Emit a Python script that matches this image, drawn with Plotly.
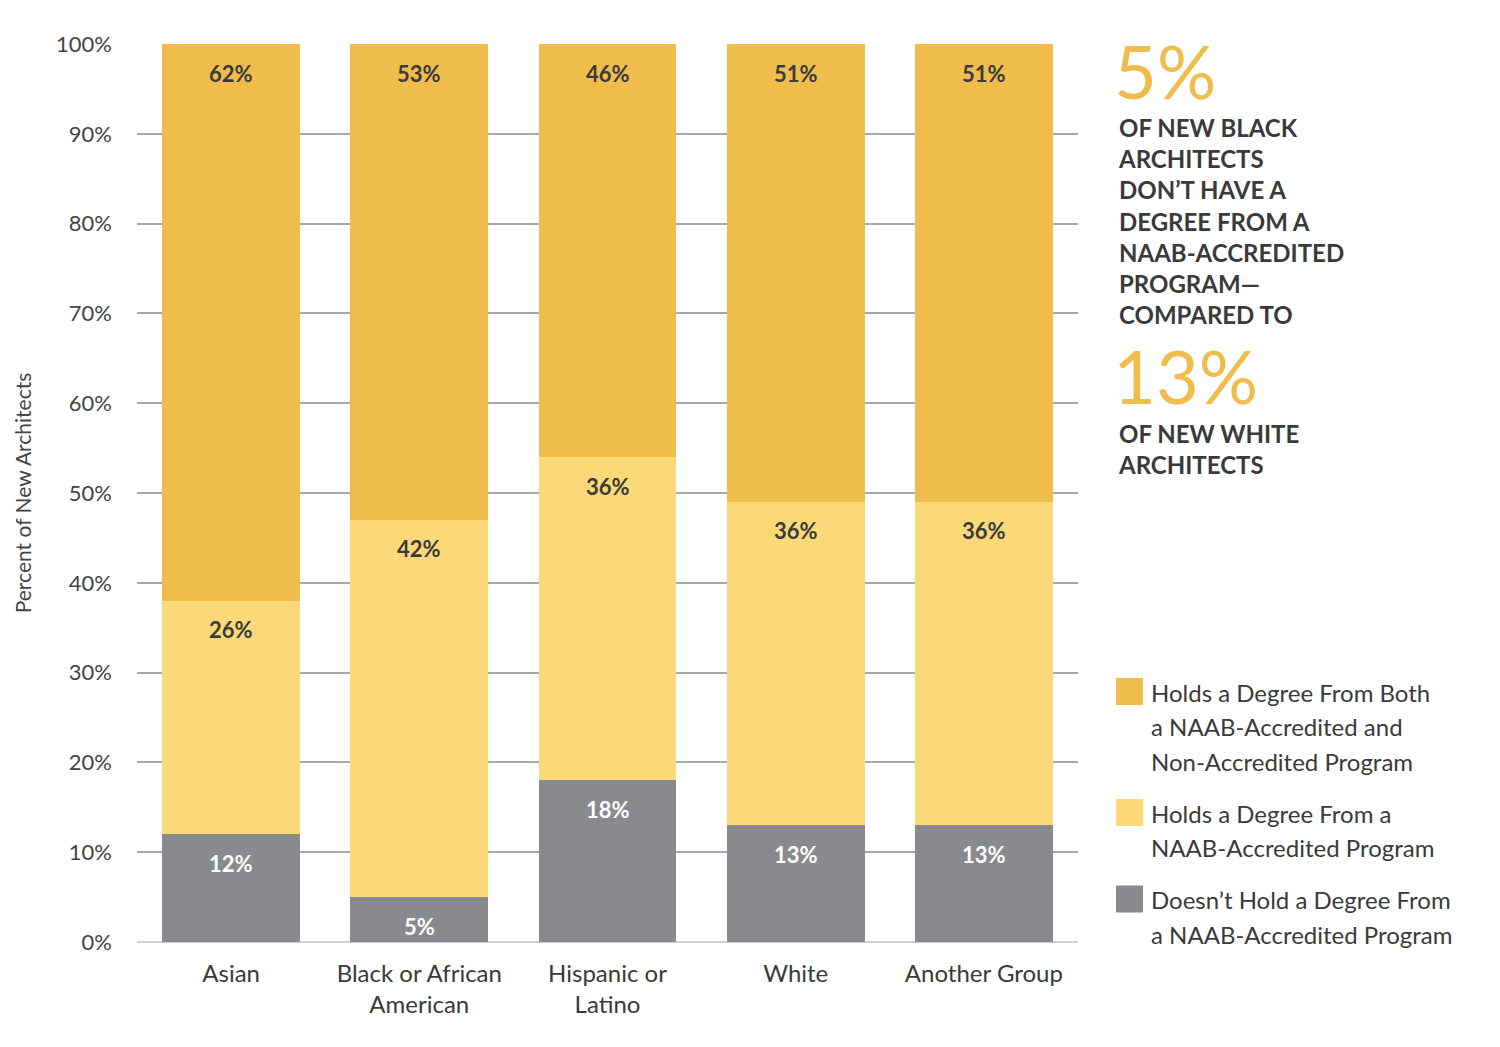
import plotly.graph_objects as go

# ---------------- data ----------------
categories = ["Asian", "Black or African<br>American", "Hispanic or<br>Latino", "White", "Another Group"]
no_naab = [12, 5, 18, 13, 13]          # Doesn't hold a degree from a NAAB-accredited program
naab_only = [26, 42, 36, 36, 36]       # Holds a degree from a NAAB-accredited program
both = [62, 53, 46, 51, 51]            # Holds a degree from both

series_names = [
    "Doesn’t Hold a Degree From a NAAB-Accredited Program",
    "Holds a Degree From a NAAB-Accredited Program",
    "Holds a Degree From Both a NAAB-Accredited and Non-Accredited Program",
]
legend_lines = [
    ["Holds a Degree From Both", "a NAAB-Accredited and", "Non-Accredited Program"],
    ["Holds a Degree From a", "NAAB-Accredited Program"],
    ["Doesn’t Hold a Degree From", "a NAAB-Accredited Program"],
]
y_ticks = [0, 10, 20, 30, 40, 50, 60, 70, 80, 90, 100]
y_tick_labels = [f"{v}%" for v in y_ticks]
y_title = "Percent of New Architects"

callout_big_1 = "5%"
callout_text_1 = ["OF NEW BLACK", "ARCHITECTS", "DON’T HAVE A", "DEGREE FROM A",
                  "NAAB-ACCREDITED", "PROGRAM—", "COMPARED TO"]
callout_big_2 = "13%"
callout_text_2 = ["OF NEW WHITE", "ARCHITECTS"]

# ---------------- style ----------------
C_GRAY = "#898A8D"
C_LIGHT = "#FCD978"
C_GOLD = "#F0BD4C"
C_TEXT = "#3A3A3A"
FONT = "Lato"

W, H = 1500, 1047
L, R, T, B = 137, 422, 44, 105
PW, PH = W - L - R, H - T - B


def px_x(px):
    return (px - L) / PW


def px_y(py):
    return (H - B - py) / PH


fig = go.Figure()
series = [(no_naab, C_GRAY), (naab_only, C_LIGHT), (both, C_GOLD)]
for (vals, col), name in zip(series, series_names):
    fig.add_trace(go.Bar(
        x=categories, y=vals, name=name, marker=dict(color=col, line=dict(width=0)),
        hoverinfo="skip", showlegend=False,
    ))

# value labels near top of each segment
annotations = []
cum = [0] * len(categories)
for (vals, col) in series:
    for i, v in enumerate(vals):
        cum[i] += v
        annotations.append(dict(
            x=categories[i], y=cum[i], xref="x", yref="y", text=f"<b>{v}%</b>",
            showarrow=False, yanchor="middle", yshift=-29,
            font=dict(family=FONT, size=22, color="white" if col == C_GRAY else C_TEXT),
        ))

# right-side callouts
BIG = 74
annotations.append(dict(x=px_x(1112), y=px_y(70), xref="paper", yref="paper", xanchor="left",
                        yanchor="middle", showarrow=False, text=callout_big_1,
                        font=dict(family=FONT, size=BIG, color=C_GOLD)))
annotations.append(dict(x=px_x(1116), y=px_y(221), xref="paper", yref="paper", xanchor="left",
                        yanchor="middle", showarrow=False, align="left",
                        text="<b>" + "<br>".join(callout_text_1) + "</b>",
                        font=dict(family=FONT, size=24, color=C_TEXT)))
annotations.append(dict(x=px_x(1111), y=px_y(375), xref="paper", yref="paper", xanchor="left",
                        yanchor="middle", showarrow=False, text=callout_big_2,
                        font=dict(family=FONT, size=BIG, color=C_GOLD)))
annotations.append(dict(x=px_x(1116), y=px_y(449), xref="paper", yref="paper", xanchor="left",
                        yanchor="middle", showarrow=False, align="left",
                        text="<b>" + "<br>".join(callout_text_2) + "</b>",
                        font=dict(family=FONT, size=24, color=C_TEXT)))

# manual legend
shapes = []
legend_colors = [C_GOLD, C_LIGHT, C_GRAY]
line_y = 692
for lines, col in zip(legend_lines, legend_colors):
    shapes.append(dict(type="rect", xref="paper", yref="paper",
                       x0=px_x(1116), x1=px_x(1143), y0=px_y(line_y - 14), y1=px_y(line_y + 13),
                       fillcolor=col, line=dict(width=0)))
    for ln in lines:
        annotations.append(dict(x=px_x(1149), y=px_y(line_y), xref="paper", yref="paper",
                                xanchor="left", yanchor="middle", showarrow=False, text=ln,
                                font=dict(family=FONT, size=24, color=C_TEXT)))
        line_y += 34.5
    line_y += 17.5

fig.update_layout(
    barmode="stack",
    bargap=0.267,
    width=W, height=H,
    margin=dict(l=L, r=R, t=T, b=B, pad=0),
    paper_bgcolor="white", plot_bgcolor="white",
    font=dict(family=FONT, color=C_TEXT),
    showlegend=False,
    annotations=annotations,
    shapes=shapes,
)
fig.update_yaxes(
    range=[0, 100], tickvals=y_ticks, ticktext=y_tick_labels,
    showgrid=True, gridcolor="#A8A8A8", gridwidth=1.5,
    zeroline=True, zerolinecolor="#D0D0D0", zerolinewidth=2,
    ticks="", ticklabelstandoff=24,
    tickfont=dict(family=FONT, size=22, color="#444444"),
    title=dict(text=y_title, standoff=18, font=dict(family=FONT, size=21, color="#444444")),
    fixedrange=True,
)
fig.update_xaxes(
    showgrid=False, showline=False, ticks="", ticklabelstandoff=15,
    tickfont=dict(family=FONT, size=24, color=C_TEXT), fixedrange=True,
)

fig.write_html("out.html", config={"displayModeBar": False})
